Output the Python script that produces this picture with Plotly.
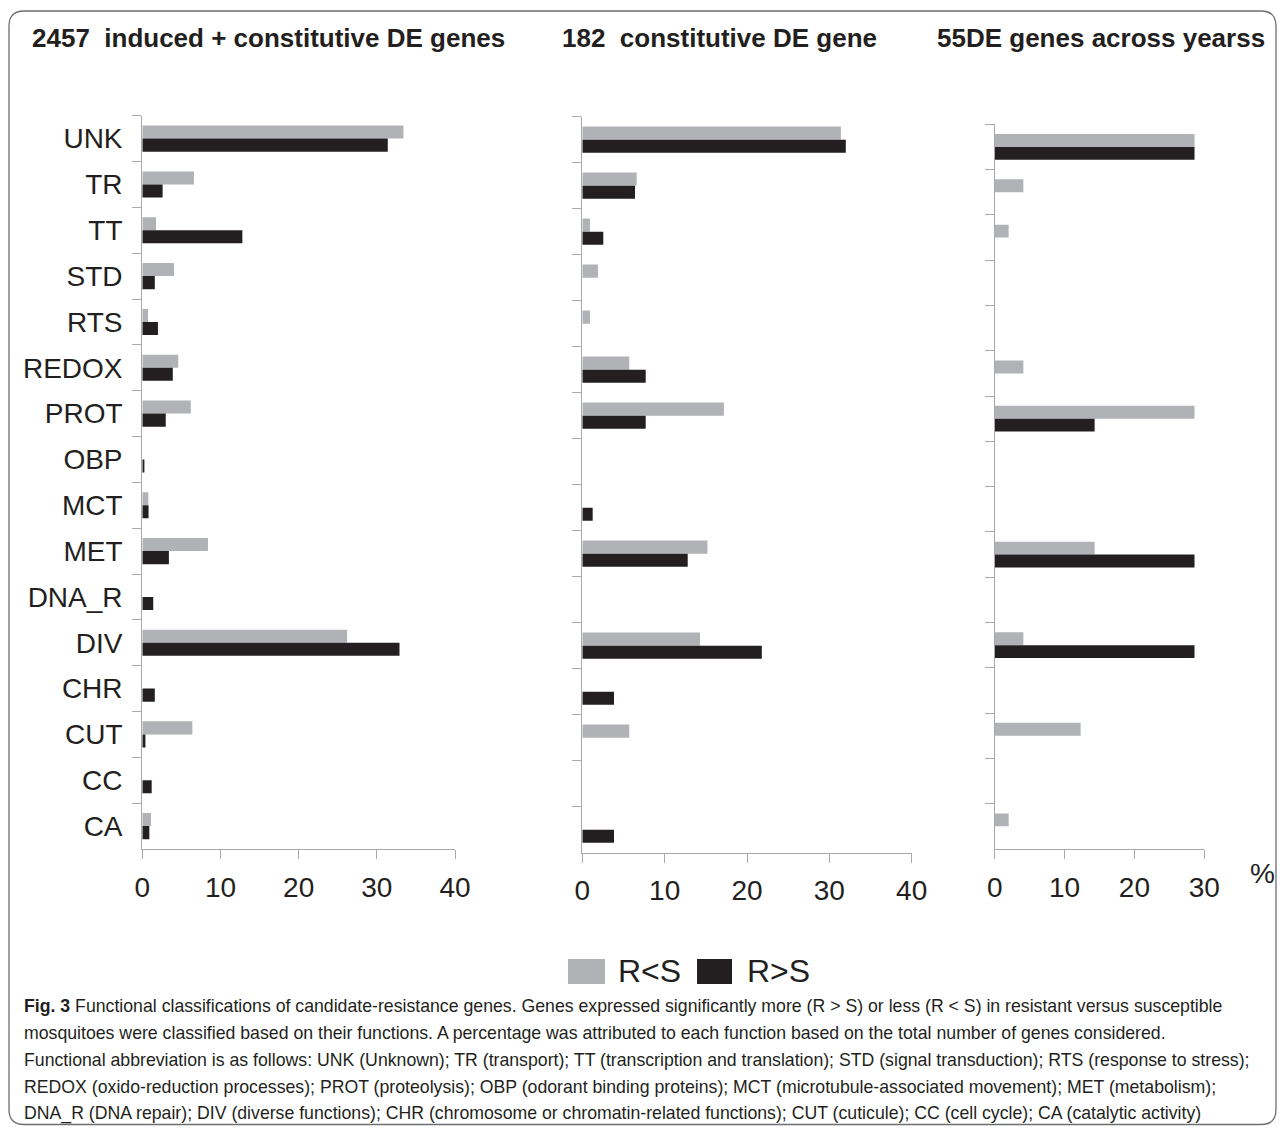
import plotly.graph_objects as go

# Page offset (browser body margin) and figure size so that the page fits the window
OFF = 8
W, H = 1285 - 2 * OFF, 1134 - 2 * OFF

categories = ["UNK", "TR", "TT", "STD", "RTS", "REDOX", "PROT", "OBP", "MCT",
              "MET", "DNA_R", "DIV", "CHR", "CUT", "CC", "CA"]

panel_titles = ["2457  induced + constitutive DE genes",
                "182  constitutive DE gene",
                "55DE genes across yearss"]

series_names = ["R&lt;S", "R&gt;S"]

# Panel 1: 2457 induced + constitutive DE genes (%)
p1_r_less_s = [33.4, 6.6, 1.75, 4.05, 0.73, 4.6, 6.2, 0.0, 0.77, 8.4, 0.0, 26.2, 0.0, 6.4, 0.0, 1.1]
p1_r_more_s = [31.4, 2.6, 12.8, 1.6, 2.0, 3.9, 3.0, 0.27, 0.8, 3.4, 1.4, 32.9, 1.6, 0.4, 1.2, 0.9]

# Panel 2: 182 constitutive DE genes (%)
p2_r_less_s = [31.4, 6.6, 0.93, 1.9, 0.93, 5.7, 17.2, 0.0, 0.0, 15.2, 0.0, 14.3, 0.0, 5.7, 0.0, 0.0]
p2_r_more_s = [32.0, 6.4, 2.55, 0.0, 0.0, 7.7, 7.7, 0.0, 1.26, 12.8, 0.0, 21.8, 3.85, 0.0, 0.0, 3.85]

# Panel 3: 55 DE genes across years (%)
p3_r_less_s = [28.6, 4.1, 2.0, 0.0, 0.0, 4.1, 28.6, 0.0, 0.0, 14.3, 0.0, 4.1, 0.0, 12.3, 0.0, 2.0]
p3_r_more_s = [28.6, 0.0, 0.0, 0.0, 0.0, 0.0, 14.3, 0.0, 0.0, 28.6, 0.0, 28.6, 0.0, 0.0, 0.0, 0.0]

x_ticks = [[0, 10, 20, 30, 40], [0, 10, 20, 30, 40], [0, 10, 20, 30]]
x_ranges = [[0, 40], [0, 40], [0, 30]]

caption_lines = [
    "<b>Fig. 3</b> Functional classifications of candidate-resistance genes. Genes expressed significantly more (R &gt; S) or less (R &lt; S) in resistant versus susceptible",
    "mosquitoes were classified based on their functions. A percentage was attributed to each function based on the total number of genes considered.",
    "Functional abbreviation is as follows: UNK (Unknown); TR (transport); TT (transcription and translation); STD (signal transduction); RTS (response to stress);",
    "REDOX (oxido-reduction processes); PROT (proteolysis); OBP (odorant binding proteins); MCT (microtubule-associated movement); MET (metabolism);",
    "DNA_R (DNA repair); DIV (diverse functions); CHR (chromosome or chromatin-related functions); CUT (cuticule); CC (cell cycle); CA (catalytic activity)",
]

GRAY = "#b1b2b5"
BLACK = "#231f20"
AXIS = "#a7a9ac"
TEXT = "#231f20"
FONT = "Liberation Sans, Arial, Helvetica, sans-serif"


def px_x(x):
    return (x - OFF) / W


def px_y(y):
    return 1 - (y - OFF) / H


# pixel geometry of panels (reference window pixels): (x0, x1, ytop, ybottom)
panels = [(142.3, 455.0, 115.7, 849.0),
          (582.3, 911.7, 116.7, 852.7),
          (994.7, 1204.3, 124.3, 849.0)]

data_less = [p1_r_less_s, p2_r_less_s, p3_r_less_s]
data_more = [p1_r_more_s, p2_r_more_s, p3_r_more_s]

fig = go.Figure()
for i in range(3):
    xa = "x" if i == 0 else f"x{i+1}"
    ya = "y" if i == 0 else f"y{i+1}"
    fig.add_trace(go.Bar(y=categories, x=data_less[i], orientation="h",
                         marker=dict(color=GRAY, line=dict(width=0)),
                         xaxis=xa, yaxis=ya, showlegend=False, name="R<S"))
    fig.add_trace(go.Bar(y=categories, x=data_more[i], orientation="h",
                         marker=dict(color=BLACK, line=dict(width=0)),
                         xaxis=xa, yaxis=ya, showlegend=False, name="R>S"))

layout = dict(width=W, height=H,
              margin=dict(l=0, r=0, t=0, b=0, pad=0, autoexpand=False),
              autosize=False,
              paper_bgcolor="white", plot_bgcolor="white",
              barmode="group", bargap=0.43, bargroupgap=0.0,
              showlegend=False,
              font=dict(family=FONT, color=TEXT))

for i, (x0, x1, yt, yb) in enumerate(panels):
    sx = "" if i == 0 else str(i + 1)
    layout["xaxis" + sx] = dict(
        domain=[px_x(x0), px_x(x1)], range=x_ranges[i], anchor="y" + sx,
        tickvals=x_ticks[i], showgrid=False, zeroline=False,
        showline=True, linecolor=AXIS, linewidth=1.3,
        ticks="outside", ticklen=9, tickcolor=AXIS, tickwidth=1.3,
        tickfont=dict(size=28, color=TEXT, family=FONT), ticklabelstandoff=4,
        automargin=False, fixedrange=True)
    layout["yaxis" + sx] = dict(
        domain=[px_y(yb), px_y(yt)], anchor="x" + sx,
        type="category", categoryorder="array", categoryarray=categories,
        range=[15.5, -0.5], tickson="boundaries",
        showgrid=False, zeroline=False,
        showline=True, linecolor=AXIS, linewidth=1.3,
        ticks="outside", ticklen=9, tickcolor=AXIS, tickwidth=1.3,
        showticklabels=(i == 0),
        tickfont=dict(size=28, color=TEXT, family=FONT), ticklabelstandoff=13,
        automargin=False, fixedrange=True)

annotations = []
title_pos = [(30, 38), (560, 38), (935, 38)]
for t, (tx, ty) in zip(panel_titles, title_pos):
    annotations.append(dict(text=f"<b>{t}</b>", x=px_x(tx), y=px_y(ty),
                            xref="paper", yref="paper", xanchor="left", yanchor="middle",
                            showarrow=False, font=dict(size=26, color=TEXT, family=FONT)))

annotations.append(dict(text="%", x=px_x(1262), y=px_y(873), xref="paper", yref="paper",
                        xanchor="center", yanchor="middle", showarrow=False,
                        font=dict(size=28, color=TEXT, family=FONT)))

# legend (drawn as layout items)
legend_items = [(568, 605, GRAY, series_names[0], 616), (697, 732, BLACK, series_names[1], 745)]
shapes = []
for lx0, lx1, col, name, tx in legend_items:
    shapes.append(dict(type="rect", xref="paper", yref="paper",
                       x0=px_x(lx0), x1=px_x(lx1), y0=px_y(984), y1=px_y(959),
                       fillcolor=col, line=dict(width=0)))
    annotations.append(dict(text=name, x=px_x(tx), y=px_y(971), xref="paper", yref="paper",
                            xanchor="left", yanchor="middle", showarrow=False,
                            font=dict(size=32, color=TEXT, family=FONT)))

caption_y = [1006, 1033, 1060, 1087, 1113]
for line, cy in zip(caption_lines, caption_y):
    annotations.append(dict(text=line, x=px_x(22), y=px_y(cy), xref="paper", yref="paper",
                            xanchor="left", yanchor="middle", showarrow=False,
                            font=dict(size=17.7, color=TEXT, family=FONT)))

# rounded frame
fx0, fx1, fy0, fy1, r = 9, 1276, 11, 1124.5, 15
path = (f"M {px_x(fx0+r)},{px_y(fy0)} L {px_x(fx1-r)},{px_y(fy0)} "
        f"Q {px_x(fx1)},{px_y(fy0)} {px_x(fx1)},{px_y(fy0+r)} "
        f"L {px_x(fx1)},{px_y(fy1-r)} Q {px_x(fx1)},{px_y(fy1)} {px_x(fx1-r)},{px_y(fy1)} "
        f"L {px_x(fx0+r)},{px_y(fy1)} Q {px_x(fx0)},{px_y(fy1)} {px_x(fx0)},{px_y(fy1-r)} "
        f"L {px_x(fx0)},{px_y(fy0+r)} Q {px_x(fx0)},{px_y(fy0)} {px_x(fx0+r)},{px_y(fy0)} Z")
shapes.append(dict(type="path", xref="paper", yref="paper", path=path,
                   line=dict(color="#6d6e71", width=1.3), layer="below"))

layout["annotations"] = annotations
layout["shapes"] = shapes
fig.update_layout(**layout)

fig.write_html("out.html", config={"displayModeBar": False, "responsive": False})
